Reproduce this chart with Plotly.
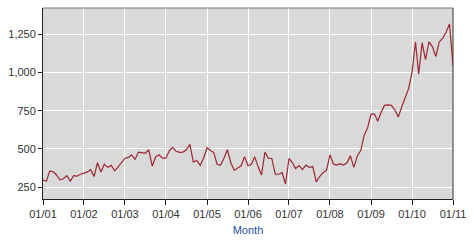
import pandas as pd
import plotly.graph_objects as go

# Monthly series, Jan 2001 .. Jan 2011
start_month = "2001-01-01"
values = [
    # 2001
    297, 290, 355, 352, 330, 298, 305, 325, 290, 325, 322, 335,
    # 2002
    342, 350, 365, 320, 410, 350, 400, 380, 393, 357, 383, 410,
    # 2003
    440, 445, 462, 432, 480, 476, 472, 495, 388, 448, 462, 440,
    # 2004
    440, 490, 511, 485, 478, 480, 495, 530, 415, 425, 393, 440,
    # 2005
    508, 490, 478, 400, 393, 440, 495, 410, 360, 375, 390, 450,
    # 2006
    390, 400, 450, 385, 330, 480, 440, 438, 335, 335, 346, 271,
    # 2007
    438, 410, 372, 392, 365, 395, 380, 385, 285, 320, 345, 360,
    # 2008
    462, 402, 395, 404, 395, 410, 455, 380, 455, 490, 590, 638,
    # 2009
    728, 728, 681, 740, 785, 788, 785, 755, 710, 775, 830, 895,
    # 2010
    1000, 1200, 990, 1195, 1085, 1200, 1170, 1105, 1200, 1225, 1265, 1318,
    # 2011
    1045,
]
months = pd.date_range(start_month, periods=len(values), freq="MS")

y_ticks = [250, 500, 750, 1000, 1250]
x_title = "Month"

fig = go.Figure()
fig.add_trace(go.Scatter(
    x=months, y=values, mode="lines",
    line=dict(color="#9e2633", width=1.2),
    hoverinfo="skip", showlegend=False,
))

font_family = "Liberation Sans, Arial, sans-serif"

fig.update_layout(
    width=474, height=243,
    margin=dict(l=41, r=21, t=8, b=41),
    paper_bgcolor="white",
    plot_bgcolor="#d9d9d9",
    font=dict(family=font_family, size=11, color="#333333"),
    xaxis=dict(
        range=["2001-01-01", "2011-01-01"],
        tick0="2001-01-01", dtick="M12", tickformat="%m/%y",
        showgrid=True, gridcolor="white", gridwidth=1.3,
        showline=True, linecolor="#222222", linewidth=1,
        ticks="outside", ticklen=5, tickcolor="#222222",
        zeroline=False,
        title=dict(text=x_title, font=dict(color="#1f4fa5", size=11), standoff=7),
        tickfont=dict(size=11, color="#333333"),
    ),
    yaxis=dict(
        range=[173, 1422],
        tickvals=y_ticks, tickformat=",d",
        showgrid=True, gridcolor="white", gridwidth=1.3,
        showline=True, linecolor="#222222", linewidth=1,
        ticks="outside", ticklen=4, tickcolor="#222222",
        zeroline=False,
        tickfont=dict(size=11, color="#333333"),
    ),
    shapes=[
        dict(type="line", xref="paper", yref="paper", x0=0, x1=1, y0=1, y1=1,
             line=dict(color="#777777", width=1)),
        dict(type="line", xref="paper", yref="paper", x0=1, x1=1, y0=0, y1=1,
             line=dict(color="#333333", width=1)),
    ],
)

fig.write_html("out.html")
